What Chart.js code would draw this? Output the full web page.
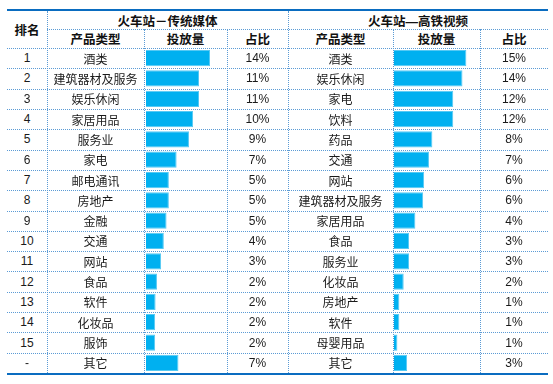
<!DOCTYPE html>
<html>
<head>
<meta charset="utf-8">
<script src="https://cdn.jsdelivr.net/npm/chart.js"></script>
<style>
body { margin: 0; background: #fff; }
#wrap { position: relative; width: 553px; height: 384px; overflow: hidden;
  font-family: "Liberation Sans", Arial, "Noto Sans CJK SC", sans-serif; font-size: 12px; color: #1a1a1a; }
.cell { position: absolute; display: flex; align-items: center; justify-content: center; white-space: nowrap; }
.hd { font-weight: bold; font-size: 12.5px; color: #111; }
.hl { position: absolute; height: 0; border-top: 1px dotted #5b9bd5; }
.vl { position: absolute; width: 0; border-left: 1px dotted #5b9bd5; }
.thick { position: absolute; height: 2px; background: #0a6cc0; }
canvas { position: absolute; }
</style>
</head>
<body>
<div id="wrap">
  <canvas id="graficoLeft" width="80" height="325" style="left:146px; top:48px;"></canvas>
  <canvas id="graficoRight" width="85" height="325" style="left:394px; top:48px;"></canvas>
</div>
<script>
const ranks = ['1','2','3','4','5','6','7','8','9','10','11','12','13','14','15','-'];

// 火车站-传统媒体
const leftCategories = ['酒类','建筑器材及服务','娱乐休闲','家居用品','服务业','家电','邮电通讯','房地产','金融','交通','网站','食品','软件','化妆品','服饰','其它'];
const leftValues = [14.0, 11.6, 11.6, 10.3, 9.4, 6.7, 5.0, 5.0, 4.5, 3.9, 3.3, 2.4, 2.1, 2.0, 2.0, 7.1];
const leftShares = ['14%','11%','11%','10%','9%','7%','5%','5%','5%','4%','3%','2%','2%','2%','2%','7%'];

// 火车站-高铁视频
const rightCategories = ['酒类','娱乐休闲','家电','饮料','药品','交通','网站','建筑器材及服务','家居用品','食品','服务业','化妆品','房地产','软件','母婴用品','其它'];
const rightValues = [14.9, 14.1, 12.2, 12.2, 7.9, 7.2, 6.2, 6.0, 4.4, 3.1, 3.1, 2.0, 1.1, 1.1, 0.7, 2.7];
const rightShares = ['15%','14%','12%','12%','8%','7%','6%','6%','4%','3%','3%','2%','1%','1%','1%','3%'];

const wrap = document.getElementById('wrap');
const cols = [7, 47, 144, 227, 288, 393, 480, 548];
const rowTop = 48, rowH = 325 / 16, bottom = 373;

function addCell(text, x1, y1, x2, y2, cls){
    let d = document.createElement('div');
    d.className = 'cell' + (cls ? ' ' + cls : '');
    d.style.left = x1 + 'px';
    d.style.top = y1 + 'px';
    d.style.width = (x2 - x1) + 'px';
    d.style.height = (y2 - y1) + 'px';
    d.textContent = text;
    wrap.appendChild(d);
}
function hline(x1, x2, y){
    let d = document.createElement('div');
    d.className = 'hl';
    d.style.left = x1 + 'px'; d.style.width = (x2 - x1) + 'px'; d.style.top = y + 'px';
    wrap.appendChild(d);
}
function vline(x, y1, y2){
    let d = document.createElement('div');
    d.className = 'vl';
    d.style.left = x + 'px'; d.style.top = y1 + 'px'; d.style.height = (y2 - y1) + 'px';
    wrap.appendChild(d);
}

// headers
addCell('排名', cols[0], 11, cols[1], rowTop, 'hd');
addCell('火车站－传统媒体', cols[1], 11, cols[4], 29, 'hd');
addCell('火车站—高铁视频', cols[4], 11, cols[7], 29, 'hd');
['产品类型','投放量','占比','产品类型','投放量','占比'].forEach((t, i) => {
    addCell(t, cols[i + 1], 29, cols[i + 2], rowTop, 'hd');
});

// rows
for(let i = 0; i < 16; i++){
    let y1 = rowTop + i * rowH, y2 = y1 + rowH;
    addCell(ranks[i], cols[0], y1, cols[1], y2);
    addCell(leftCategories[i], cols[1], y1, cols[2], y2);
    addCell(leftShares[i], cols[3], y1, cols[4], y2);
    addCell(rightCategories[i], cols[4], y1, cols[5], y2);
    addCell(rightShares[i], cols[6], y1, cols[7], y2);
    hline(cols[0], cols[7], Math.round(y1));
}

// grid
hline(cols[1], cols[7], 29);
vline(cols[1], 11, bottom);
vline(cols[4], 11, bottom);
[cols[2], cols[3], cols[5], cols[6]].forEach(x => vline(x, 29, bottom));

let t = document.createElement('div');
t.className = 'thick'; t.style.left = '7px'; t.style.width = '541px'; t.style.top = '9px';
wrap.appendChild(t);
let b = document.createElement('div');
b.className = 'thick'; b.style.left = '7px'; b.style.width = '541px'; b.style.top = bottom + 'px';
wrap.appendChild(b);

function barChart(id, labels, values){
    return new Chart(document.getElementById(id).getContext('2d'), {
        type: 'bar',
        data: {
            labels: labels,
            datasets: [{
                data: values,
                backgroundColor: '#00b0f0',
                borderColor: '#55c9f4',
                borderWidth: 1,
                barPercentage: 1,
                categoryPercentage: 0.8
            }]
        },
        options: {
            indexAxis: 'y',
            responsive: false,
            animation: false,
            layout: { padding: 0 },
            plugins: { legend: { display: false }, tooltip: { enabled: false } },
            scales: {
                x: { display: false, min: 0, max: 17.5 },
                y: { display: false }
            }
        }
    });
}
barChart('graficoLeft', leftCategories, leftValues);
barChart('graficoRight', rightCategories, rightValues);
</script>
</body>
</html>
